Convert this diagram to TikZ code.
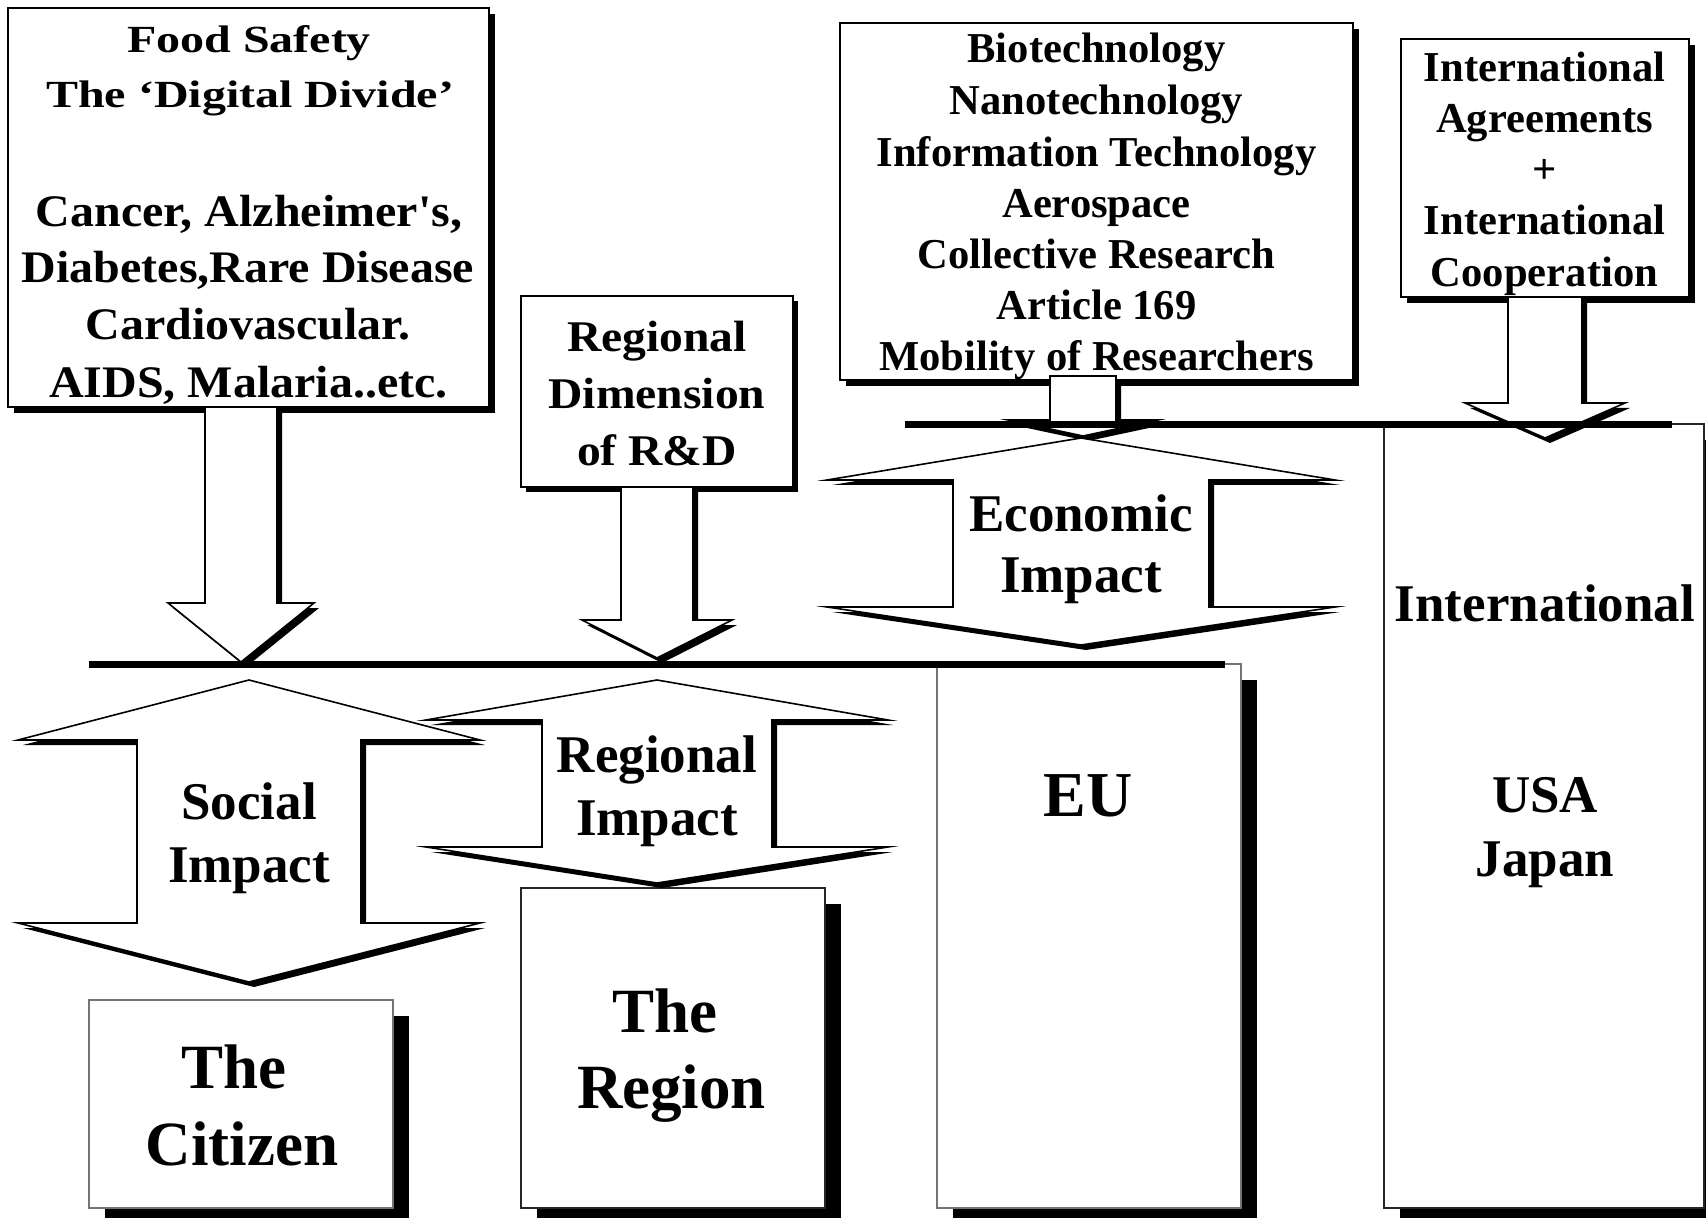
\documentclass[tikz,border=0pt]{standalone}
\usepackage{fontspec}
\setmainfont{Liberation Serif}
\usepackage{graphicx}
\tikzset{
  topbox/.style={draw=black, line width=0.9pt, fill=white, inner sep=0pt, outer sep=0pt},
  botbox/.style={draw=black!55, line width=0.6pt, fill=white, inner sep=0pt, outer sep=0pt},
  blk/.style={draw=black, line width=0.8pt, fill=white, line join=miter, miter limit=20},
  shad/.style={fill=black},
  bar/.style={line width=3.5pt},
  txt/.style={anchor=base, inner sep=0pt, outer sep=0pt},
  fA/.style={font=\bfseries\fontsize{21.3pt}{25pt}\selectfont},
  fB/.style={font=\bfseries\fontsize{24pt}{27pt}\selectfont},
  fR/.style={font=\bfseries\fontsize{23.8pt}{27pt}\selectfont},
  fC/.style={font=\bfseries\fontsize{26.5pt}{30pt}\selectfont},
  fD/.style={font=\bfseries\fontsize{31.5pt}{36pt}\selectfont},
  fE/.style={font=\bfseries\fontsize{32pt}{36pt}\selectfont},
}
% box with shadow: name, style, x1, y1, x2, y2, shadow offset
\newcommand\mkbox[7]{%
  \fill[shad] ({#3+#7},{#4+#7}) rectangle ({#5+#7},{#6+#7});
  \pgfmathsetmacro\mkBW{(#5-#3)*0.5}\pgfmathsetmacro\mkBH{(#6-#4)*0.5}%
  \node[#2, minimum width=\mkBW pt, minimum height=\mkBH pt] (#1) at ({(#3+#5)/2},{(#4+#6)/2}) {};
}
% down block arrow: name, cx, ytop, yhead, ytip, half shaft, half head, shadow
\newcommand\downarr[8]{%
  \fill[shad, shift={(#8,#8)}] ({#2-#6},#3) -- ({#2+#6},#3) -- ({#2+#6},#4) -- ({#2+#7},#4) -- (#2,#5) -- ({#2-#7},#4) -- ({#2-#6},#4) -- cycle;
  \draw[blk] ({#2-#6},#3) -- ({#2+#6},#3) -- ({#2+#6},#4) -- ({#2+#7},#4) -- (#2,#5) -- ({#2-#7},#4) -- ({#2-#6},#4) -- cycle;
  \coordinate (#1) at (#2,#5);
}
% up-down block arrow: cx, yapex, ywing1, ywing2, ytip, half wing, half shaft, shadow
\newcommand\dblarr[8]{%
  \fill[shad, shift={(#8,#8)}] (#1,#2) -- ({#1+#6},#3) -- ({#1+#7},#3) -- ({#1+#7},#4) -- ({#1+#6},#4) -- (#1,#5) -- ({#1-#6},#4) -- ({#1-#7},#4) -- ({#1-#7},#3) -- ({#1-#6},#3) -- cycle;
  \draw[blk] (#1,#2) -- ({#1+#6},#3) -- ({#1+#7},#3) -- ({#1+#7},#4) -- ({#1+#6},#4) -- (#1,#5) -- ({#1-#6},#4) -- ({#1-#7},#4) -- ({#1-#7},#3) -- ({#1-#6},#3) -- cycle;
}
\begin{document}
\begin{tikzpicture}[x=0.5pt, y=-0.5pt]
\useasboundingbox (0,0) rectangle (1706,1218);
\fill[white] (0,0) rectangle (1706,1218);

% lower boxes
\mkbox{citizen}{botbox}{89}{1000}{393}{1208}{16}
\mkbox{region}{botbox,draw=black!85}{521}{888}{825}{1208}{16}
\mkbox{eu}{botbox}{937}{664}{1241}{1208}{16}
\mkbox{intl}{botbox,draw=black!85}{1384}{424}{1704}{1208}{16}

% upper boxes
\mkbox{food}{topbox}{8}{8}{489}{407}{6}
\mkbox{rdim}{topbox}{521}{296}{793}{487}{5}
\mkbox{tech}{topbox}{840}{23}{1353}{380}{6}
\mkbox{agree}{topbox}{1401}{39}{1689}{297}{6}

% single block arrows
\downarr{a1}{241}{407}{603}{662}{36}{73}{5}
\downarr{a2}{657}{487}{620}{658}{36}{75}{5}
\downarr{a3}{1083}{376}{420}{436}{33}{75}{5}
\downarr{a4}{1545}{297}{403}{438}{37}{80}{5}

% double block arrows
\dblarr{249}{680}{740}{923}{982}{231}{112}{5}
\dblarr{657}{680}{720}{847}{883}{231}{115}{5}
\dblarr{1081}{438}{480}{607}{645}{254}{128}{5}

% bars
\coordinate (l1a) at (89,664); \coordinate (l1b) at (1225,664);
\coordinate (l2a) at (905,424.5); \coordinate (l2b) at (1672,424.5);
\draw[bar] (l1a) -- (l1b);
\draw[bar] (l2a) -- (l2b);

% food box text
\node[txt,fB] (f1) at (249,53) {\scalebox{1}[0.8]{Food Safety}};
\node[txt,fB] (f2) at (250,108) {\scalebox{1}[0.8]{The ‘Digital Divide’}};
\node[txt,fB] (f3) at (249,227) {\scalebox{1}[0.94]{Cancer, Alzheimer\textquotesingle s,}};
\node[txt,fB] (f4) at (248,283) {\scalebox{1}[0.94]{Diabetes,Rare Disease}};
\node[txt,fB] (f5) at (248,340) {\scalebox{1}[0.94]{Cardiovascular.}};
\node[txt,fB] (f6) at (248.5,398) {\scalebox{1}[0.94]{AIDS, Malaria..etc.}};

% regional dimension text
\node[txt,fR] (r1) at (657,352) {\scalebox{1}[0.92]{Regional}};
\node[txt,fR] (r2) at (657,409) {\scalebox{1}[0.92]{Dimension}};
\node[txt,fR] (r3) at (657,466) {\scalebox{1}[0.92]{of R\&D}};

% technology text
\node[txt,fA] (b1) at (1096.5,63) {Biotechnology};
\node[txt,fA] (b2) at (1096.5,115) {Nanotechnology};
\node[txt,fA] (b3) at (1096.5,167) {Information Technology};
\node[txt,fA] (b4) at (1096.5,218) {Aerospace};
\node[txt,fA] (b5) at (1096.5,269) {Collective Research};
\node[txt,fA] (b6) at (1096.5,320) {Article 169};
\node[txt,fA] (b7) at (1096.5,371) {Mobility of Researchers};

% agreements text
\node[txt,fA] (g1) at (1544.5,82) {International};
\node[txt,fA] (g2) at (1544.5,133) {Agreements};
\node[txt,fA] (g3) at (1544.5,184) {+};
\node[txt,fA] (g4) at (1544.5,235) {International};
\node[txt,fA] (g5) at (1544.5,287) {Cooperation};

% impact labels
\node[txt,fC] (s1) at (249,819) {Social};
\node[txt,fC] (s2) at (249,882) {Impact};
\node[txt,fC] (e1) at (1081,532) {Economic};
\node[txt,fC] (e2) at (1081,593) {Impact};
\node[txt,fC] (ri1) at (657,772) {Regional};
\node[txt,fC] (ri2) at (657,835) {Impact};

% lower box labels
\node[txt,fC] (i1) at (1545,621) {International};
\node[txt,fC] (i2) at (1545,812) {USA};
\node[txt,fC] (i3) at (1545,876) {Japan};
\node[txt,fE] (eu1) at (1088,816) {EU};
\node[txt,fD] (c1) at (234,1088) {The};
\node[txt,fD] (c2) at (242,1165) {Citizen};
\node[txt,fD] (rg1) at (664.5,1032) {The};
\node[txt,fD] (rg2) at (671.5,1108) {Region};
\end{tikzpicture}
\end{document}
